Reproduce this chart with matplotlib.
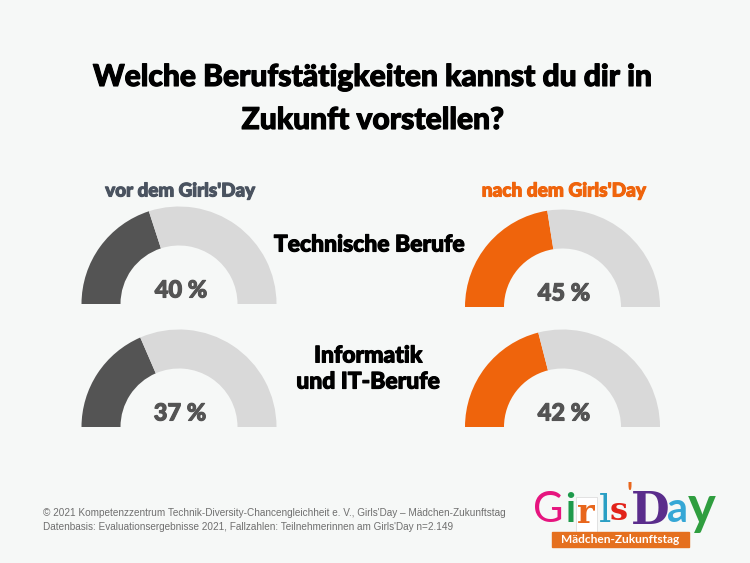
import matplotlib
matplotlib.use("Agg")
from matplotlib import pyplot as plt
from matplotlib import patheffects as pe
from matplotlib.patches import Rectangle

W, H = 750, 563

title_lines = ["Welche Berufstätigkeiten kannst du dir in", "Zukunft vorstellen?"]
col_labels = ["vor dem Girls'Day", "nach dem Girls'Day"]
row_labels = ["Technische Berufe", "Informatik\nund IT-Berufe"]
before_values = [40, 37]
after_values = [45, 42]
footer_lines = [
    "© 2021 Kompetenzzentrum Technik-Diversity-Chancengleichheit e. V., Girls'Day – Mädchen-Zukunftstag",
    "Datenbasis: Evaluationsergebnisse 2021, Fallzahlen: Teilnehmerinnen am Girls'Day n=2.149",
]
logo_letters = ["G", "i", "r", "l", "s", "'", "D", "a", "y"]
logo_colors = ["#e6157f", "#1e9a4b", "#e8661c", "#2a9fc4", "#e2231a", "#e8661c", "#5a2d8c", "#35a7d6", "#2f9e3f"]

bg = "#f6f8f7"
grey = "#d9d9d9"
dark = "#545454"
orange = "#ef640c"
slate = "#4a5360"

plt.rcParams["font.family"] = ["Lato", "DejaVu Sans"]

fig = plt.figure(figsize=(W / 100, H / 100), dpi=100, facecolor=bg)
base = fig.add_axes([0, 0, 1, 1])
base.set_xlim(0, W)
base.set_ylim(H, 0)
base.axis("off")


def heavy(color, lw=0.8):
    return [pe.withStroke(linewidth=lw, foreground=color)]


def gauge(cx, y_base, value, color):
    r = 97.5
    ax = fig.add_axes([(cx - r) / W, (H - y_base - r) / H, 2 * r / W, 2 * r / H])
    # bottom half of the pie stays invisible
    wedges, _ = ax.pie([value, 100 - value, 100], colors=[color, grey, bg], startangle=180,
                       counterclock=False, radius=1, wedgeprops=dict(width=0.40, linewidth=0))
    wedges[2].set_visible(False)
    ax.set_xlim(-1, 1)
    ax.set_ylim(-1, 1)
    ax.patch.set_alpha(0)
    return ax


for i, y_base in enumerate([304, 427]):
    gauge(179, y_base, before_values[i], dark)
for i, y_base in enumerate([307, 427]):
    gauge(562.5, y_base, after_values[i], orange)

for y, line in zip([77, 120], title_lines):
    base.text(373, y, line, ha="center", va="center", fontsize=21.6, fontweight="black", color="black",
              path_effects=heavy("black"))

base.text(180.5, 191, col_labels[0], ha="center", va="center", fontsize=13.5, fontweight="black", color=slate,
          path_effects=heavy(slate))
base.text(564, 191, col_labels[1], ha="center", va="center", fontsize=13.7, fontweight="black", color=orange,
          path_effects=heavy(orange))

base.text(369, 245, row_labels[0], ha="center", va="center", fontsize=16.5, fontweight="black", color="black",
          path_effects=heavy("black"))
base.text(368, 369, row_labels[1], ha="center", va="center", fontsize=16.5, fontweight="black", color="black",
          linespacing=1.3, path_effects=heavy("black"))

for x, y, v in [(181, 290, before_values[0]), (180, 413, before_values[1])]:
    base.text(x, y, f"{v} %", ha="center", va="center", fontsize=17, fontweight="black", color=dark,
              path_effects=heavy(dark))
for x, y, v in [(564, 293, after_values[0]), (564, 413, after_values[1])]:
    base.text(x, y, f"{v} %", ha="center", va="center", fontsize=17, fontweight="black", color=dark,
              path_effects=heavy(dark))

for y, line in zip([513, 527], footer_lines):
    base.text(43, y, line, ha="left", va="center", fontsize=7.2, color="#6f6f6f", family="Liberation Sans")

# logo
base.add_patch(Rectangle((576, 497), 21, 35, facecolor="white", edgecolor="#d8d8d8", linewidth=0.5, zorder=2))
logo_x = [548, 570, 586, 605, 619, 630, 650, 677, 702]
logo_y = [522, 522, 523, 522, 520, 503, 524, 522, 524]
logo_sizes = [30, 29, 24, 28, 23, 20, 32, 30, 38]
logo_weights = ["normal", "bold", "bold", "normal", "bold", "bold", "bold", "bold", "bold"]
for ch, c, x, y, s, w in zip(logo_letters, logo_colors, logo_x, logo_y, logo_sizes, logo_weights):
    base.text(x, y, ch, ha="center", va="baseline", fontsize=s, fontweight=w, color=c,
              family="DejaVu Serif" if ch in "rDls" else "Lato", zorder=3)
base.add_patch(Rectangle((552, 532), 137, 15, color="#e5701f", zorder=4))
base.text(620.5, 539.5, "Mädchen-Zukunftstag", ha="center", va="center", fontsize=8.6, fontweight="bold",
          color="white", zorder=5)

fig.savefig("out.png", dpi=100, facecolor=bg)
